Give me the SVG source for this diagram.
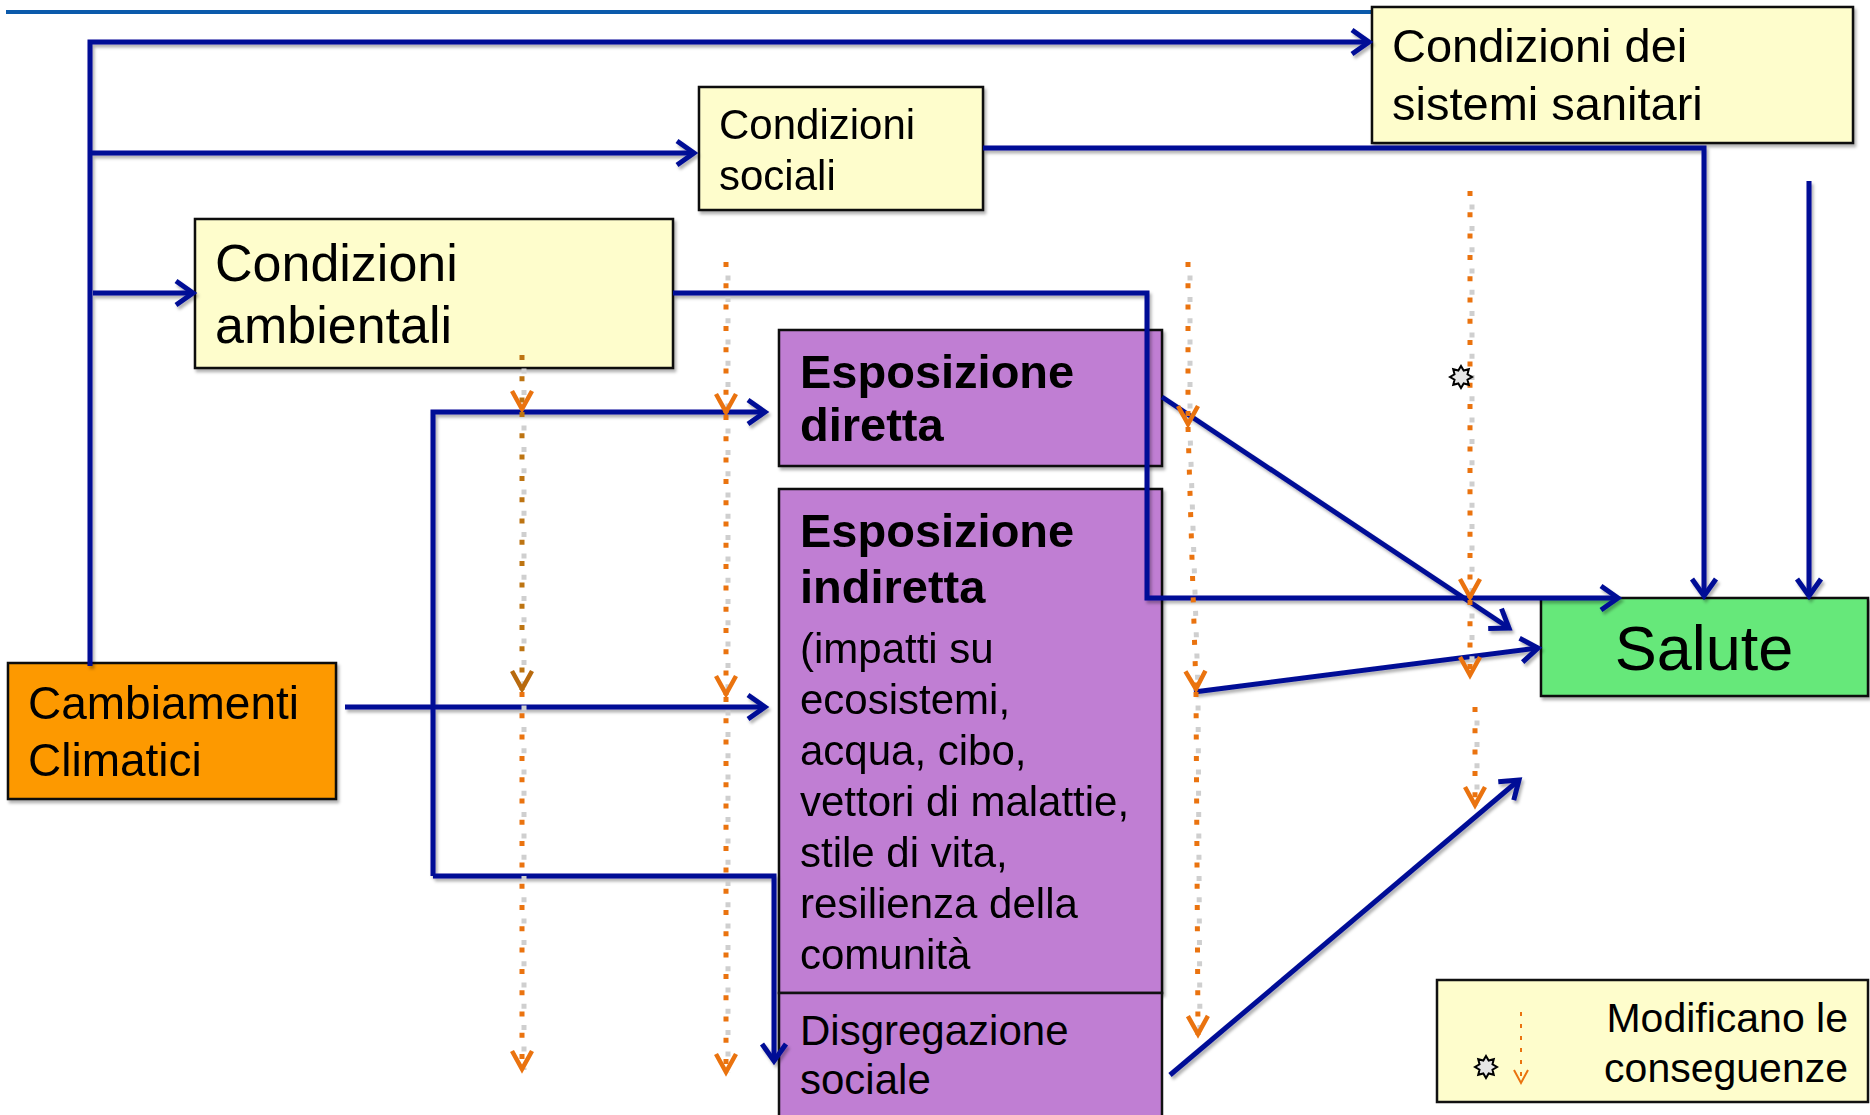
<svg xmlns="http://www.w3.org/2000/svg" xmlns:xlink="http://www.w3.org/1999/xlink" width="1870" height="1115" viewBox="0 0 1870 1115">
<style>
.box{stroke:#111;stroke-width:2.5}
.y{fill:#fefdcc}
.p{fill:#c07ed3}
.t{font-family:"Liberation Sans",Arial,sans-serif;fill:#000}
.b{font-weight:bold}
.c{fill:none;stroke:#000c96;stroke-width:5}
.sh{fill:none;stroke:#cfcfcf;stroke-width:5;stroke-dasharray:5 16.3;stroke-dashoffset:-10.6}
.od{fill:none;stroke:#ea730f;stroke-width:5;stroke-dasharray:5 16.3}
.br{stroke:#bd7412}
</style>
<defs>
<filter id="ds" x="-10%" y="-10%" width="120%" height="120%"><feDropShadow dx="2" dy="3" stdDeviation="1.5" flood-color="#000" flood-opacity="0.3"/></filter>
<marker id="ab" markerUnits="userSpaceOnUse" markerWidth="40" markerHeight="40" viewBox="-20 -20 40 40" refX="0" refY="0" orient="auto" overflow="visible"><path d="M-17,-12 L0,0 L-17,12" fill="none" stroke="#000c96" stroke-width="5"/></marker>
<marker id="ao" markerUnits="userSpaceOnUse" markerWidth="40" markerHeight="40" viewBox="-20 -20 40 40" refX="0" refY="0" orient="auto" overflow="visible"><path d="M-19,-10 L-1,0 L-19,10" fill="none" stroke="#ea730f" stroke-width="4.5"/></marker>
<marker id="aob" markerUnits="userSpaceOnUse" markerWidth="40" markerHeight="40" viewBox="-20 -20 40 40" refX="0" refY="0" orient="auto" overflow="visible"><path d="M-19,-10 L-1,0 L-19,10" fill="none" stroke="#b86a0e" stroke-width="4.5"/></marker>
<marker id="aos" markerUnits="userSpaceOnUse" markerWidth="20" markerHeight="20" viewBox="-10 -10 20 20" refX="0" refY="0" orient="auto" overflow="visible"><path d="M-13,-7 L0,0 L-13,7" fill="none" stroke="#ea730f" stroke-width="2"/></marker>
<polygon id="star" points="0,-11 2.68,-6.47 7.78,-7.78 6.47,-2.68 11,0 6.47,2.68 7.78,7.78 2.68,6.47 0,11 -2.68,6.47 -7.78,7.78 -6.47,2.68 -11,0 -6.47,-2.68 -7.78,-7.78 -2.68,-6.47" fill="#e6e6e6" stroke="#000" stroke-width="2"/>
</defs>
<rect width="1870" height="1115" fill="#fff"/>
<line x1="6" y1="12" x2="1372" y2="12" stroke="#0b5aab" stroke-width="4"/>

<g id="sanitari" filter="url(#ds)">
<rect class="box y" x="1372" y="7" width="481" height="136"/>
<text class="t" font-size="47" x="1392" y="62">Condizioni dei</text>
<text class="t" font-size="47" x="1392" y="120">sistemi sanitari</text>
</g>
<g id="sociali" filter="url(#ds)">
<rect class="box y" x="699" y="87" width="284" height="123"/>
<text class="t" font-size="42" x="719" y="139">Condizioni</text>
<text class="t" font-size="42" x="719" y="190">sociali</text>
</g>
<g id="ambientali" filter="url(#ds)">
<rect class="box y" x="195" y="219" width="478" height="149"/>
<text class="t" font-size="52" x="215" y="281">Condizioni</text>
<text class="t" font-size="52" x="215" y="343">ambientali</text>
</g>
<g id="diretta" filter="url(#ds)">
<rect class="box p" x="779" y="330" width="383" height="136"/>
<text class="t b" font-size="47" x="800" y="388">Esposizione</text>
<text class="t b" font-size="47" x="800" y="441">diretta</text>
</g>
<g id="indiretta" filter="url(#ds)">
<rect class="box p" x="779" y="489" width="383" height="504"/>
<text class="t b" font-size="47" x="800" y="547">Esposizione</text>
<text class="t b" font-size="47" x="800" y="603">indiretta</text>
<text class="t" font-size="42" x="800" y="663">(impatti su</text>
<text class="t" font-size="42" x="800" y="714">ecosistemi,</text>
<text class="t" font-size="42" x="800" y="765">acqua, cibo,</text>
<text class="t" font-size="42" x="800" y="816">vettori di malattie,</text>
<text class="t" font-size="42" x="800" y="867">stile di vita,</text>
<text class="t" font-size="42" x="800" y="918">resilienza della</text>
<text class="t" font-size="42" x="800" y="969">comunità</text>
</g>
<g id="disgregazione">
<rect class="box p" x="779" y="993" width="383" height="140"/>
<text class="t" font-size="42" x="800" y="1045">Disgregazione</text>
<text class="t" font-size="42" x="800" y="1094">sociale</text>
</g>
<g id="cambiamenti" filter="url(#ds)">
<rect class="box" fill="#fd9900" x="8" y="663" width="328" height="136"/>
<text class="t" font-size="46" x="28" y="719">Cambiamenti</text>
<text class="t" font-size="46" x="28" y="776">Climatici</text>
</g>
<g id="salute" filter="url(#ds)">
<rect class="box" fill="#66e87a" x="1541" y="598" width="327" height="98"/>
<text class="t" font-size="63" x="1704" y="670" text-anchor="middle">Salute</text>
</g>
<g id="legenda">
<rect class="box y" x="1437" y="980" width="431" height="122"/>
<text class="t" font-size="41" x="1848" y="1032" text-anchor="end">Modificano le</text>
<text class="t" font-size="41" x="1848" y="1082" text-anchor="end">conseguenze</text>
<line x1="1521" y1="1012" x2="1521" y2="1083" fill="none" stroke="#ea730f" stroke-width="2" stroke-dasharray="4 8" marker-end="url(#aos)"/>
<use xlink:href="#star" x="1486" y="1067"/>
</g>

<g id="connectors">
<g filter="url(#ds)">
<path class="c" d="M90,666 V42 H1369" marker-end="url(#ab)"/>
<path class="c" d="M90,153 H694" marker-end="url(#ab)"/>
<path class="c" d="M93,293 H193" marker-end="url(#ab)"/>
<path class="c" d="M673,293 H1147 V598 H1618" marker-end="url(#ab)"/>
<path class="c" d="M983,148 H1704 V596" marker-end="url(#ab)"/>
<path class="c" d="M1809,181 V596" marker-end="url(#ab)"/>
<path class="c" d="M345,707 H765" marker-end="url(#ab)"/>
<path class="c" d="M433,876 V412 H765" marker-end="url(#ab)"/>
<path class="c" d="M433,876 H774 V1061" marker-end="url(#ab)"/>
<path class="c" d="M1162,397 L1509,628" marker-end="url(#ab)"/>
<path class="c" d="M1194,692 L1538,648" marker-end="url(#ab)"/>
<path class="c" d="M1170,1075 L1519,780" marker-end="url(#ab)"/>
</g>
<g id="modifiers">
<path class="sh" d="M524,358 V410"/><path class="od br" d="M522,355 V410" marker-end="url(#ao)"/>
<path class="sh" d="M524,415 V690"/><path class="od br" d="M522,412 V690" marker-end="url(#aob)"/>
<path class="sh" d="M524,695 V1070"/><path class="od" d="M522,692 V1070" marker-end="url(#ao)"/>
<path class="sh" d="M728,265 V413"/><path class="od" d="M726,262 V413" marker-end="url(#ao)"/>
<path class="sh" d="M728,418 V695"/><path class="od" d="M726,415 V695" marker-end="url(#ao)"/>
<path class="sh" d="M728,700 V1073"/><path class="od" d="M726,697 V1073" marker-end="url(#ao)"/>
<path class="sh" d="M1190,265 V425"/><path class="od" d="M1188,262 V425" marker-end="url(#ao)"/>
<path class="sh" d="M1190,430 L1198,690"/><path class="od" d="M1188,427 L1196,690" marker-end="url(#ao)"/>
<path class="sh" d="M1198,695 L1200,1035"/><path class="od" d="M1196,692 L1198,1035" marker-end="url(#ao)"/>
<path class="sh" d="M1472,194 V598"/><path class="od" d="M1470,191 V598" marker-end="url(#ao)"/>
<path class="sh" d="M1472,603 V676"/><path class="od" d="M1470,600 V676" marker-end="url(#ao)"/>
<path class="sh" d="M1477,710 V806"/><path class="od" d="M1475,707 V806" marker-end="url(#ao)"/>
<use xlink:href="#star" x="1461" y="377"/>
</g>
</g>
</svg>
